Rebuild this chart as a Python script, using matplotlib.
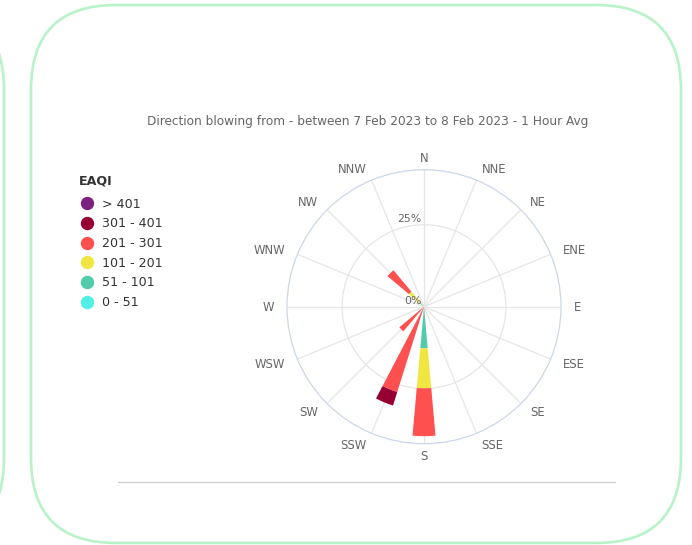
"""Wind rose of EAQI by wind direction, 7-8 Feb 2023."""

import matplotlib.pyplot as plt
import numpy as np
from matplotlib.lines import Line2D
from matplotlib.patches import FancyBboxPatch
from matplotlib.transforms import IdentityTransform

plt.rcParams["font.family"] = ["DejaVu Sans"]

DIRECTIONS = ["N", "NNE", "NE", "ENE", "E", "ESE", "SE", "SSE",
              "S", "SSW", "SW", "WSW", "W", "WNW", "NW", "NNW"]
BANDS = ["0 - 51", "51 - 101", "101 - 201", "201 - 301", "301 - 401", "> 401"]
BAND_COLORS = ["#50f0e6", "#50ccaa", "#f0e641", "#ff5050", "#960032", "#7d2181"]

# percent of hours per direction, one list per EAQI band (stacked from the centre)
band_0_51 = [0, 0, 0, 0, 0, 0, 0, 0, 0, 0, 0, 0, 0, 0, 0, 0]
band_51_101 = [0, 0, 0, 0, 0, 0, 0, 0, 12.7, 0, 0, 0, 0, 0, 1.5, 0]
band_101_201 = [0, 0, 0, 0, 0, 0, 0, 0, 12.2, 0, 0, 0, 0, 0, 4.5, 0]
band_201_301 = [0, 0, 0, 0, 0, 0, 0, 0, 14.6, 27.3, 9.8, 0, 0, 0, 8.5, 0]
band_301_401 = [0, 0, 0, 0, 0, 0, 0, 0, 0, 4.3, 0, 0, 0, 0, 0, 0]
band_401 = [0, 0, 0, 0, 0, 0, 0, 0, 0, 0, 0, 0, 0, 0, 0, 0]
SERIES = [band_0_51, band_51_101, band_101_201, band_201_301, band_301_401, band_401]

R_MAX = 41.8
TITLE = "Direction blowing from - between 7 Feb 2023 to 8 Feb 2023 - 1 Hour Avg"

W, H = 692, 545
fig = plt.figure(figsize=(W / 100, H / 100), dpi=100)

# card outlines (pixel space)
for x0, x1 in [(-600, 4), (31, 681)]:
    fig.add_artist(FancyBboxPatch(
        (x0, 2), x1 - x0, 538,
        boxstyle="round,pad=0,rounding_size=85",
        transform=IdentityTransform(), fc="none", ec="#b8f2c8", lw=1.9,
    ))

cx, cy, rad = 424, 306.7, 137
ax = fig.add_axes([(cx - rad) / W, (H - cy - rad) / H, 2 * rad / W, 2 * rad / H],
                  projection="polar")
ax.set_theta_zero_location("N")
ax.set_theta_direction(-1)

theta = np.deg2rad(np.arange(len(DIRECTIONS)) * 22.5)
bottom = np.zeros(len(DIRECTIONS))
for vals, col in zip(SERIES, BAND_COLORS):
    vals = np.array(vals, dtype=float)
    ax.bar(theta, vals, width=np.deg2rad(10.2), bottom=bottom, color=col,
           edgecolor="none", zorder=3)
    bottom += vals

ax.set_ylim(0, R_MAX)
ax.set_xticks(theta, [])
ax.set_yticks([0, 25], [])
ax.grid(color="#e6e6e6", lw=0.9)
ax.spines["polar"].set_color("#ccd6eb")
ax.spines["polar"].set_linewidth(0.9)

# direction labels: just outside the ring, aligned away from the centre
for th, lab in zip(theta, DIRECTIONS):
    s, c = np.sin(th), np.cos(th)
    ha = "center" if abs(s) < 0.2 else ("left" if s > 0 else "right")
    ax.annotate(lab, xy=(th, R_MAX), xytext=(9.5 * s, 8.6 * c - 0.5),
                textcoords="offset points", ha=ha, va="center",
                color="#666666", fontsize=8.4, annotation_clip=False)

for r, lab in [(25, "25%"), (0, "0%")]:
    ax.annotate(lab, xy=(0, r), xytext=(-1.5, 0.5), textcoords="offset points",
                ha="right", va="bottom", color="#666666", fontsize=7.9, zorder=5)

fig.text(368 / W, 1 - 122 / H, TITLE, ha="center", va="center",
         color="#666666", fontsize=8.7)

# legend
fig.text(79 / W, 1 - 180.7 / H, "EAQI", ha="left", va="center",
         color="#333333", fontsize=9.1, fontweight="bold")
handles = [Line2D([], [], ls="none", marker="o", ms=8.6, mfc=c, mec=c)
           for c in BAND_COLORS[::-1]]
leg = fig.legend(handles, BANDS[::-1], loc="upper left",
                 bbox_to_anchor=(74 / W, 1 - 192.5 / H), frameon=False,
                 handlelength=1.3, handletextpad=0.5,
                 labelspacing=0.53, fontsize=9.1, borderaxespad=0)
for t in leg.get_texts():
    t.set_color("#333333")

fig.add_artist(Line2D([118 / W, 615 / W], [1 - 482 / H] * 2,
                      transform=fig.transFigure, color="#cccccc", lw=0.9))

fig.savefig("out.png", dpi=100, facecolor="white")
